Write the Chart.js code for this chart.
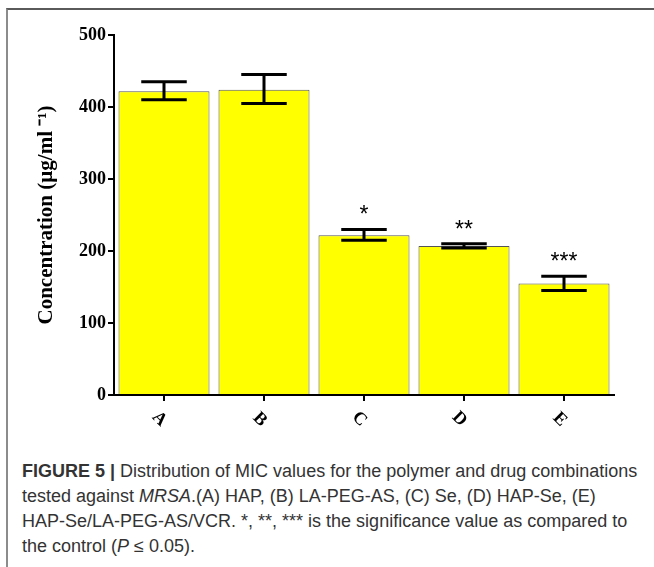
<!DOCTYPE html>
<html><head><meta charset="utf-8">
<script src="https://cdn.jsdelivr.net/npm/chart.js@4.4.0/dist/chart.umd.min.js"></script>
<style>
html,body{margin:0;padding:0;background:#fff;}
#wrap{position:relative;width:654px;height:567px;overflow:hidden;}
#frame{position:absolute;left:6px;top:8px;right:-10px;bottom:-10px;border-top:2px solid #5a5a5a;border-left:2px solid #8c8c8c;}
#cv{position:absolute;left:0;top:0;}
#cap{position:absolute;left:22px;top:459px;font-family:"Liberation Sans",Arial,sans-serif;font-size:18px;line-height:25px;color:#333;white-space:nowrap;}
</style></head>
<body><div id="wrap"><div id="frame"></div><canvas id="cv" width="654" height="440"></canvas>
<div id="cap"><b>FIGURE 5 |</b> Distribution of MIC values for the polymer and drug combinations<br>tested against <i>MRSA</i>.(A) HAP, (B) LA-PEG-AS, (C) Se, (D) HAP-Se, (E)<br>HAP-Se/LA-PEG-AS/VCR. *, **, *** is the significance value as compared to<br>the control (<i>P</i> ≤ 0.05).</div></div>
<script>
const categories = ['A', 'B', 'C', 'D', 'E'];
const meanValues = [422, 424, 222, 207, 155];
const errLow = [410, 405, 215, 204, 145];
const errHigh = [435, 445, 230, 210, 165];
const sigLabels = ['', '', '*', '**', '***'];
const yTickValues = [0, 100, 200, 300, 400, 500];
const yTitle = 'Concentration (µg/ml ⁻¹)';

const errorBarPlugin = {
  id: 'errbars',
  afterDatasetsDraw(chart) {
    const ctx = chart.ctx, y = chart.scales.y;
    const meta = chart.getDatasetMeta(0);
    ctx.save();
    ctx.strokeStyle = '#000';
    ctx.lineWidth = 3;
    meta.data.forEach((bar, i) => {
      const x = bar.x;
      const yt = y.getPixelForValue(errHigh[i]);
      const yb = y.getPixelForValue(errLow[i]);
      const hw = bar.width * 0.25;
      ctx.beginPath();
      ctx.moveTo(x, yt); ctx.lineTo(x, yb);
      ctx.moveTo(x - hw, yt); ctx.lineTo(x + hw, yt);
      ctx.moveTo(x - hw, yb); ctx.lineTo(x + hw, yb);
      ctx.stroke();
      if (sigLabels[i]) {
        ctx.fillStyle = '#000';
        ctx.font = '23px "Liberation Sans"';
        ctx.textAlign = 'center';
        ctx.textBaseline = 'alphabetic';
        ctx.fillText(sigLabels[i], x, yt - 7);
      }
    });
    ctx.restore();
  }
};

const tickFont = {family: '"Liberation Serif", "Times New Roman", serif', weight: 'bold', size: 18};
const titleFont = {family: '"Liberation Serif", "Times New Roman", serif', weight: 'bold', size: 21};

new Chart(document.getElementById('cv'), {
  type: 'bar',
  data: {
    labels: categories,
    datasets: [{
      data: meanValues,
      backgroundColor: '#ffff00',
      borderColor: '#555555',
      borderWidth: 1,
      barPercentage: 0.91,
      categoryPercentage: 1
    }]
  },
  options: {
    responsive: false,
    animation: false,
    layout: {padding: {top: 35, right: 40, bottom: 0, left: 0}},
    plugins: {legend: {display: false}, tooltip: {enabled: false}},
    scales: {
      x: {
        grid: {display: true, offset: false, drawOnChartArea: false, tickLength: 6, color: '#000', lineWidth: 2},
        border: {display: true, color: '#000', width: 2},
        ticks: {minRotation: -45, maxRotation: -45, color: '#000', font: tickFont, padding: 15},
        afterFit(s) { s.height = 45; }
      },
      y: {
        min: 0, max: 500,
        afterBuildTicks(s) { s.ticks = yTickValues.map(v => ({value: v})); },
        ticks: {color: '#000', font: tickFont, padding: 2},
        grid: {drawOnChartArea: false, tickLength: 6, color: '#000', lineWidth: 2},
        border: {display: true, color: '#000', width: 2},
        title: {display: true, text: yTitle, color: '#000', font: titleFont, padding: {top: 34, bottom: 0}},
        afterFit(s) { s.width = 114; }
      }
    }
  },
  plugins: [errorBarPlugin]
});
</script>
</body></html>
